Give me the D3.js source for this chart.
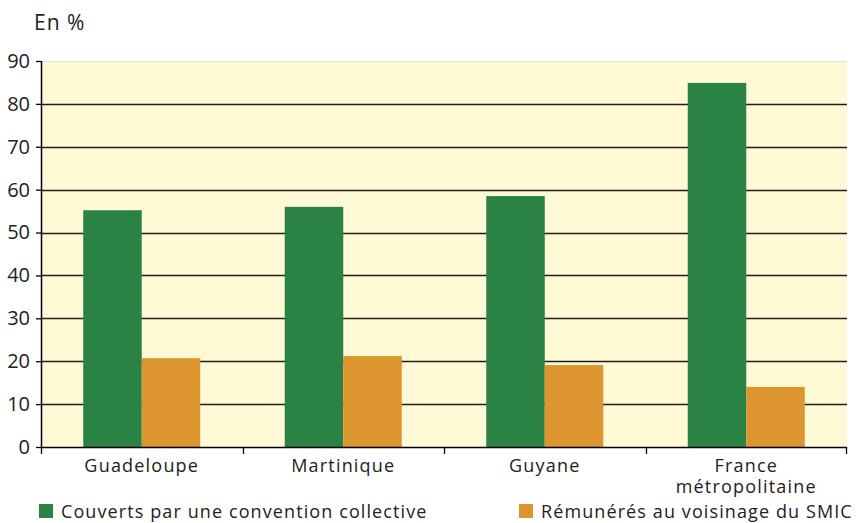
<!DOCTYPE html>
<html>
<head>
<meta charset="utf-8">
<script src="https://cdn.jsdelivr.net/npm/d3@7"></script>
<style>
  body { margin: 0; background: #fff; }
  text { font-family: "Open Sans", sans-serif; fill: #222; }
</style>
</head>
<body>
<script>
const w = 865;
const h = 523;

// ----- DATA -----
const categories = ["Guadeloupe", "Martinique", "Guyane", "France\nmétropolitaine"];
const conventionValues = [55.2, 56.0, 58.5, 84.9];
const smicValues = [20.7, 21.2, 19.1, 14.0];
const yTicks = [0, 10, 20, 30, 40, 50, 60, 70, 80, 90];
const seriesNames = ["Couverts par une convention collective", "Rémunérés au voisinage du SMIC"];
const seriesColors = ["#2a8244", "#dc952f"];

const margin = {top: 61, right: 18, bottom: 76, left: 41};
const innerW = w - margin.left - margin.right;
const innerH = h - margin.top - margin.bottom;

const svg = d3.select("body").append("svg")
  .attr("width", w)
  .attr("height", h);

// ----- TITLE -----
svg.append("text")
  .attr("x", 34)
  .attr("y", 30)
  .style("font-size", "21px")
  .style("letter-spacing", "1px")
  .text("En %");

const g = svg.append("g")
  .attr("transform", `translate(${margin.left},${margin.top})`);

// ----- SCALES -----
const x = d3.scaleBand()
  .domain(categories)
  .range([0, innerW]);

const y = d3.scaleLinear()
  .domain([0, 90])
  .range([innerH, 0]);

const xSub = d3.scaleBand()
  .domain([0, 1])
  .range([0, 117]);

// background
g.append("rect")
  .attr("width", innerW)
  .attr("height", innerH)
  .attr("fill", "#fff9d6");

g.append("line")
  .attr("x1", 0).attr("x2", innerW)
  .attr("y1", 0.5).attr("y2", 0.5)
  .attr("stroke", "#e4e0cc");

// gridlines
g.selectAll(".grid")
  .data(yTicks.filter(d => d > 0 && d < 90))
  .enter().append("line")
  .attr("class", "grid")
  .attr("x1", 0).attr("x2", innerW)
  .attr("y1", d => Math.round(y(d)) + 0.5)
  .attr("y2", d => Math.round(y(d)) + 0.5)
  .attr("stroke", "#1e1e1e")
  .attr("stroke-width", 1.6);

// ----- BARS -----
const series = [conventionValues, smicValues];
series.forEach(function (vals, s) {
  g.append("g")
    .selectAll("rect")
    .data(vals)
    .enter().append("rect")
    .attr("x", (d, i) => x(categories[i]) + (x.bandwidth() - 117) / 2 + xSub(s))
    .attr("y", d => y(d))
    .attr("width", xSub.bandwidth())
    .attr("height", d => innerH - y(d))
    .attr("fill", seriesColors[s]);
});

// ----- AXES -----
const yAxis = d3.axisLeft(y)
  .tickValues(yTicks)
  .tickSize(5)
  .tickPadding(6);

const yG = g.append("g").call(yAxis);
yG.select(".domain").attr("stroke", "#000").attr("stroke-width", 1.5).attr("d", `M0.5,0V${innerH}`);
yG.selectAll(".tick line").attr("stroke", "#000").attr("stroke-width", 1.3);
yG.selectAll("text")
  .style("font-size", "20px")
  .style("font-family", "'Open Sans', sans-serif")
  .attr("fill", "#222");

// x axis baseline + boundary ticks
const xG = g.append("g").attr("transform", `translate(0,${innerH})`);
xG.append("line")
  .attr("x1", 0).attr("x2", innerW)
  .attr("y1", 0.5).attr("y2", 0.5)
  .attr("stroke", "#000").attr("stroke-width", 1.5);

const bounds = categories.map(c => x(c)).concat([innerW]);
xG.selectAll(".bt")
  .data(bounds)
  .enter().append("line")
  .attr("x1", d => Math.min(Math.round(d), innerW - 1) + 0.5)
  .attr("x2", d => Math.min(Math.round(d), innerW - 1) + 0.5)
  .attr("y1", 0).attr("y2", 7)
  .attr("stroke", "#000").attr("stroke-width", 1.3);

xG.selectAll(".cat")
  .data(categories)
  .enter().append("text")
  .attr("text-anchor", "middle")
  .attr("transform", d => `translate(${x(d) + x.bandwidth() / 2},0)`)
  .style("font-size", "18px")
  .style("letter-spacing", "1.2px")
  .each(function (d) {
    const lines = d.split("\n");
    d3.select(this).selectAll("tspan")
      .data(lines)
      .enter().append("tspan")
      .attr("x", 0)
      .attr("y", (l, i) => 25 + i * 21)
      .text(l => l);
  });

// ----- LEGEND -----
const legendX = [39, 519];
const legend = svg.append("g");
seriesNames.forEach(function (name, i) {
  legend.append("rect")
    .attr("x", legendX[i])
    .attr("y", 504)
    .attr("width", 14)
    .attr("height", 14)
    .attr("fill", seriesColors[i]);
  legend.append("text")
    .attr("x", legendX[i] + 22)
    .attr("y", 518)
    .style("font-size", "18px")
    .style("letter-spacing", "1.1px")
    .text(name);
});
</script>
</body>
</html>
